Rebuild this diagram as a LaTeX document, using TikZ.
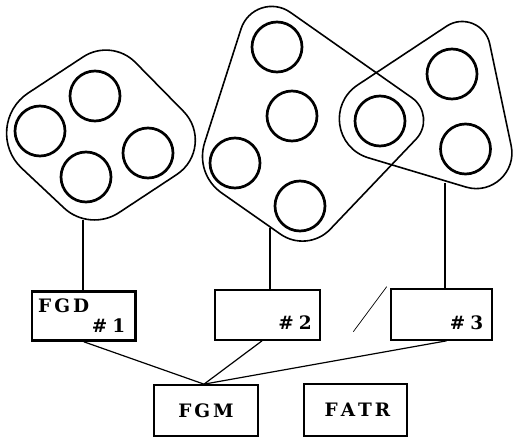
\documentclass[tikz,border=0pt]{standalone}
\usepackage{fontspec}
\setmainfont{DejaVu Serif}
\usetikzlibrary{calc}

% label font for the unit boxes
\newcommand\lblfont{\bfseries\fontsize{18.5}{18.5}\selectfont}
% spacing between the letters of a unit name
\newcommand\lettergap{\hspace{3pt}}

% rounded corner helper: #1 previous corner, #2 this corner, #3 next corner,
% #4 inset along each edge, #5 handle fraction toward the corner
\newcommand\roundcorner[5]{%
  \coordinate (#2-in)  at ($(#2)!#4!(#1)$);
  \coordinate (#2-out) at ($(#2)!#4!(#3)$);
  \coordinate (#2-c1)  at ($(#2-in)!#5!(#2)$);
  \coordinate (#2-c2)  at ($(#2-out)!#5!(#2)$);
}

\begin{document}
\begin{tikzpicture}[x=1pt,y=-1pt,
  outline/.style={line width=1.6pt, line join=round},
  ring/.style={line width=2.7pt},
  boxnode/.style={draw, line width=2.3pt, minimum width=#1, inner sep=0pt, font=\lblfont},
  link/.style={line width=1.2pt},
  lbl/.style={inner sep=0pt, font=\lblfont}]

\useasboundingbox (0,0) rectangle (513,438);

% ---- group 1 outline (four members)
\coordinate (a1) at (111.6,38.2);
\coordinate (a2) at (218.5,147);
\coordinate (a3) at (89.6,232);
\coordinate (a4) at (-22.7,126.5);
\roundcorner{a4}{a1}{a2}{34pt}{0.58}
\roundcorner{a1}{a2}{a3}{50pt}{0.52}
\roundcorner{a2}{a3}{a4}{35pt}{0.58}
\roundcorner{a3}{a4}{a1}{61pt}{0.51}
\draw[outline] (a1-out) -- (a2-in) .. controls (a2-c1) and (a2-c2) .. (a2-out)
  -- (a3-in) .. controls (a3-c1) and (a3-c2) .. (a3-out)
  -- (a4-in) .. controls (a4-c1) and (a4-c2) .. (a4-out)
  -- (a1-in) .. controls (a1-c1) and (a1-c2) .. (a1-out) -- cycle;

% ---- group 2 outline (five members)
\coordinate (b1) at (254.4,-12.9);
\coordinate (b2) at (438,116.1);
\coordinate (b3) at (307.5,253.1);
\coordinate (b4) at (194.6,174);
\roundcorner{b4}{b1}{b2}{44pt}{0.50}
\roundcorner{b1}{b2}{b3}{32pt}{0.53}
\roundcorner{b2}{b3}{b4}{33pt}{0.575}
\roundcorner{b3}{b4}{b1}{33pt}{0.60}
\draw[outline] (b1-out) -- (b2-in) .. controls (b2-c1) and (b2-c2) .. (b2-out)
  -- (b3-in) .. controls (b3-c1) and (b3-c2) .. (b3-out)
  -- (b4-in) .. controls (b4-c1) and (b4-c2) .. (b4-out)
  -- (b1-in) .. controls (b1-c1) and (b1-c2) .. (b1-out) -- cycle;

% ---- group 3 outline (three members)
\coordinate (r1) at (481.2,3.3);
\coordinate (r2) at (523.5,204.3);
\coordinate (r3) at (285.2,132.9);
\roundcorner{r3}{r1}{r2}{41.5pt}{0.48}
\roundcorner{r1}{r2}{r3}{60pt}{0.45}
\roundcorner{r2}{r3}{r1}{87pt}{0.40}
\draw[outline] (r1-out) -- (r2-in) .. controls (r2-c1) and (r2-c2) .. (r2-out)
  -- (r3-in) .. controls (r3-c1) and (r3-c2) .. (r3-out)
  -- (r1-in) .. controls (r1-c1) and (r1-c2) .. (r1-out) -- cycle;

% ---- members
\foreach \p in {(95,96),(40,131),(86,177),(148,153),
                (277,47),(292,116),(235,163),(300,206),(380,121),
                (452,74),(465.5,149)}
  \draw[ring] \p circle[radius=25pt];

% ---- unit boxes
\node[boxnode=103.5pt, minimum height=49.2pt] (fgd1) at (83.7,316) {};
\node[boxnode=104.4pt, minimum height=49.4pt] (fgd2) at (267.5,315) {};
\node[boxnode=100.4pt, minimum height=50.4pt] (fgd3) at (441.5,314.5) {};
\node[boxnode=104pt, minimum height=50.4pt] (fgm) at (206,410.5)
  {F\lettergap G\lettergap M\hspace{6pt}};
\node[boxnode=102.4pt, minimum height=51.4pt] (fatr) at (355.5,410)
  {\hspace{4pt}F\lettergap A\lettergap T\lettergap R};

\node[lbl, anchor=base west] (fgdname) at (38,312) {F\lettergap G\lettergap D};
\node[lbl, anchor=base east] (num1) at (125.5,332) {\#\hspace{5pt}1};
\node[lbl, anchor=base east] (num2) at (312,329) {\#\hspace{5pt}2};
\node[lbl, anchor=base east] (num3) at (483.5,329) {\#\hspace{5pt}3};

% ---- group to unit connectors
\coordinate (foot1) at (83,220);
\coordinate (foot2) at (270,228);
\coordinate (foot3) at (445,183);
\draw[link] (foot1) -- (foot1 |- fgd1.north);
\draw[link] (foot2) -- (foot2 |- fgd2.north);
\draw[link] (foot3) -- (foot3 |- fgd3.north);

% ---- units to FGM
\draw[link] (fgd1.south) -- ([xshift=-2pt]fgm.north);
\draw[link] ([xshift=-5.5pt]fgd2.south) -- ([xshift=-2pt]fgm.north);
\draw[link] ([xshift=5pt]fgd3.south) -- ([xshift=-2pt]fgm.north);

% ---- short slanted stroke
\coordinate (s1) at (386.7,286.7);
\coordinate (s2) at (353.3,331.7);
\draw[line width=0.7pt] (s1) -- (s2);
\end{tikzpicture}
\end{document}
